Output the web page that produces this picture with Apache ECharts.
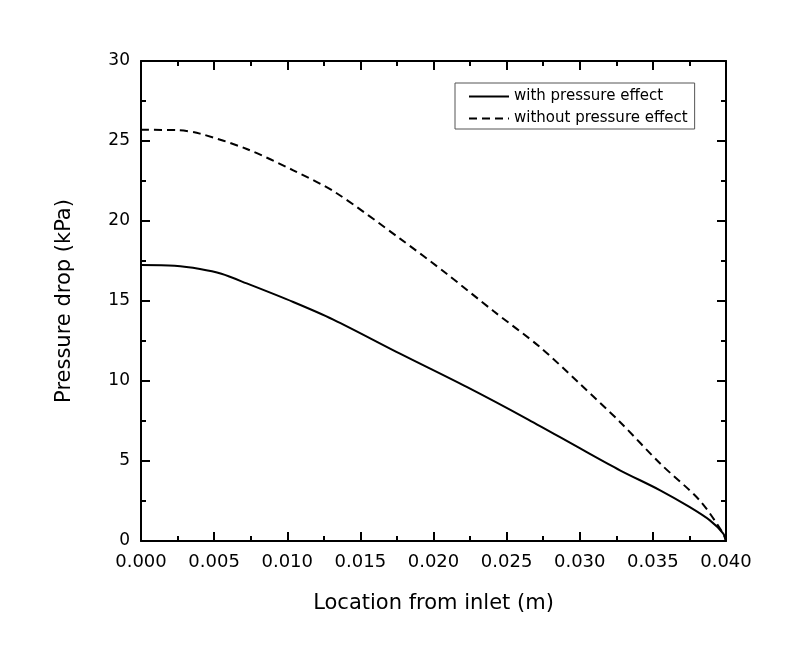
<!DOCTYPE html>
<html>
<head>
<meta charset="utf-8">
<script src="https://cdn.jsdelivr.net/npm/echarts@6/dist/echarts.min.js"></script>
<style>html,body{margin:0;padding:0;background:#fff;}#c{width:800px;height:659px;}</style>
</head>
<body>
<div id="c"></div>
<script>
// Data
const seriesNames = ['with pressure effect', 'without pressure effect'];
const xWith = [0, 0.0023, 0.00403, 0.0055, 0.00723, 0.01041, 0.01315, 0.01771, 0.02227, 0.02648, 0.0300, 0.03275, 0.0355, 0.0375, 0.0389, 0.0398, 0.0400];
const yWith = [17.25, 17.2, 17.0, 16.7, 16.1, 14.94, 13.84, 11.71, 9.63, 7.59, 5.8, 4.42, 3.17, 2.13, 1.29, 0.48, 0];
const xWithout = [0, 0.0025, 0.00403, 0.00723, 0.01041, 0.01327, 0.01771, 0.0209, 0.0241, 0.02728, 0.0300, 0.03275, 0.0355, 0.0382, 0.0398, 0.0400];
const yWithout = [25.7, 25.68, 25.46, 24.5, 23.17, 21.8, 18.9, 16.7, 14.37, 12.12, 9.83, 7.44, 4.84, 2.54, 0.48, 0];
const xTicks = {min: 0, max: 0.04, interval: 0.005};
const yTicks = {min: 0, max: 30, interval: 5};
const xName = 'Location from inlet (m)';
const yName = 'Pressure drop (kPa)';

const FONT = 'DejaVu Sans';
const pairs = (xs, ys) => xs.map((x, i) => [x, ys[i]]);

function axisBase(showLabel) {
  return {
    type: 'value',
    axisLine: {show: true, onZero: false, lineStyle: {color: '#000', width: 2}},
    axisTick: {show: true, inside: true, length: 9, lineStyle: {color: '#000', width: 2}},
    minorTick: {show: true, splitNumber: 2, length: 5, lineStyle: {color: '#000', width: 2}},
    splitLine: {show: false},
    minorSplitLine: {show: false},
    axisLabel: {show: showLabel, color: '#000', fontFamily: FONT}
  };
}

const chart = echarts.init(document.getElementById('c'), null, {renderer: 'canvas'});
const xb = axisBase(true), xt = axisBase(false), yl = axisBase(true), yr = axisBase(false);
Object.assign(xb, xTicks, {position: 'bottom', name: xName, nameLocation: 'middle', nameGap: 52,
  nameTextStyle: {fontFamily: FONT, fontSize: 21, color: '#000'}});
xb.axisLabel = Object.assign(xb.axisLabel, {fontSize: 18, margin: 12, formatter: v => v.toFixed(3)});
Object.assign(xt, xTicks, {position: 'top'});
Object.assign(yl, yTicks, {position: 'left', name: yName, nameLocation: 'middle', nameGap: 66,
  nameTextStyle: {fontFamily: FONT, fontSize: 21, color: '#000'}});
yl.axisLabel = Object.assign(yl.axisLabel, {fontSize: 17, margin: 11});
Object.assign(yr, yTicks, {position: 'right'});

chart.setOption({
  animation: false,
  backgroundColor: '#fff',
  grid: {left: 141, top: 61, width: 585, height: 480, containLabel: false},
  legend: {
    orient: 'vertical', left: 455, top: 83,
    padding: [6, 7, 3, 13], itemGap: 7, itemWidth: 40, itemHeight: 14,
    borderColor: '#555', borderWidth: 1,
    itemStyle: {opacity: 0},
    lineStyle: {width: 2},
    textStyle: {fontFamily: FONT, fontSize: 15, color: '#000', lineHeight: 14},
    data: seriesNames
  },
  xAxis: [xb, xt],
  yAxis: [yl, yr],
  series: [
    {name: seriesNames[0], type: 'line', xAxisIndex: 0, yAxisIndex: 0, data: pairs(xWith, yWith),
     symbol: 'none', smooth: 0.3,
     lineStyle: {color: '#000', width: 2, type: 'solid'}, itemStyle: {color: '#000'}},
    {name: seriesNames[1], type: 'line', xAxisIndex: 0, yAxisIndex: 0, data: pairs(xWithout, yWithout),
     symbol: 'none', smooth: 0.3,
     lineStyle: {color: '#000', width: 2, type: [8, 5]}, itemStyle: {color: '#000'}}
  ]
});
</script>
</body>
</html>
